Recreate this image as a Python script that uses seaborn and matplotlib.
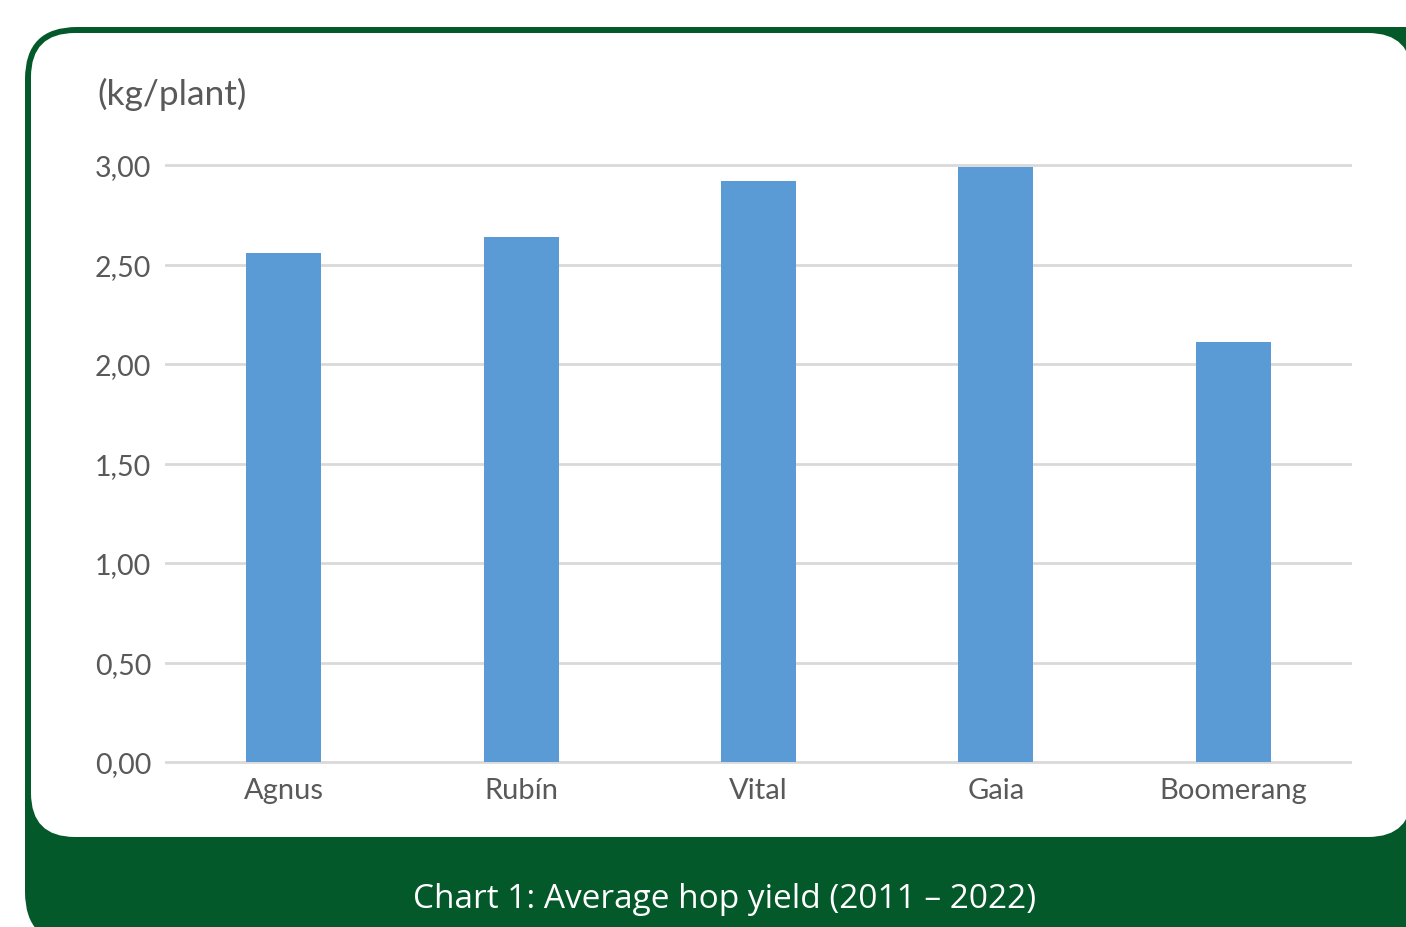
import matplotlib
matplotlib.use("Agg")
import matplotlib.pyplot as plt
import seaborn as sns
import pandas as pd
from matplotlib.patches import FancyBboxPatch
from matplotlib.transforms import IdentityTransform
from matplotlib.ticker import FuncFormatter

# ---- data ----
varieties = ["Agnus", "Rubín", "Vital", "Gaia", "Boomerang"]
yields = [2.56, 2.64, 2.92, 2.99, 2.11]
y_ticks = [0.0, 0.5, 1.0, 1.5, 2.0, 2.5, 3.0]
unit_label = "(kg/plant)"
caption = "Chart 1: Average hop yield (2011 \u2013 2022)"

df = pd.DataFrame({"variety": varieties, "yield": yields})

W, H = 1406, 928
GREEN = "#03592a"
BLUE = "#5b9bd5"
GRID = "#d9d9d9"
TXT = "#595959"

sns.set_theme(style="white")
plt.rcParams["font.family"] = ["Lato", "DejaVu Sans"]

fig = plt.figure(figsize=(W / 100, H / 100), dpi=100)
fig.patch.set_facecolor("white")

def px_box(x0, y0, x1, y1, r, color, z):
    # pixel coordinates measured from top-left
    p = FancyBboxPatch((x0, H - y1), x1 - x0, y1 - y0,
                       boxstyle=f"round,pad=0,rounding_size={r}",
                       transform=IdentityTransform(), facecolor=color,
                       edgecolor="none", zorder=z)
    fig.patches.append(p)

# outer green frame and white card
px_box(25, 28, 1460, 945, 52, GREEN, -3)
px_box(31, 34, 1412, 838, 44, "white", -2)

# axes: y=0 at px 763, y=3 at px 166
ax_left, ax_right = 165, 1352
ax_top_px, ax_bot_px = 150, 772
ppu = (763 - 166) / 3.0
ax = fig.add_axes([ax_left / W, 1 - ax_bot_px / H,
                   (ax_right - ax_left) / W, (ax_bot_px - ax_top_px) / H])
ax.set_zorder(5)
ax.patch.set_alpha(0)

sns.barplot(data=df, x="variety", y="yield", color=BLUE, width=0.316,
            saturation=1, ax=ax, zorder=3, linewidth=0, edgecolor="none")

ax.set_ylim(-(ax_bot_px - 763) / ppu, (763 - ax_top_px) / ppu)
ax.set_xlim(-0.5, len(varieties) - 0.5)
ax.set_yticks(y_ticks)
ax.yaxis.set_major_formatter(FuncFormatter(lambda v, p: f"{v:.2f}".replace(".", ",")))
for t in y_ticks:
    ax.axhline(t, color=GRID, lw=2, zorder=1)
for s in ax.spines.values():
    s.set_visible(False)
ax.set_xlabel("")
ax.set_ylabel("")
ax.tick_params(axis="y", length=0, pad=10, labelsize=20.5, labelcolor=TXT)
ax.tick_params(axis="x", length=0, pad=4, labelsize=21, labelcolor=TXT)
for lbl in ax.get_xticklabels():
    lbl.set_fontstretch("expanded")

fig.text(97 / W, 1 - 94 / H, unit_label, fontsize=25.5, color=TXT,
         ha="left", va="center", zorder=6)

fig.text(725 / W, 1 - 900 / H, caption, fontsize=24, color="white",
         ha="center", va="center", family=["Open Sans", "DejaVu Sans"], zorder=6)

fig.savefig("out.png", dpi=100, facecolor="white")
